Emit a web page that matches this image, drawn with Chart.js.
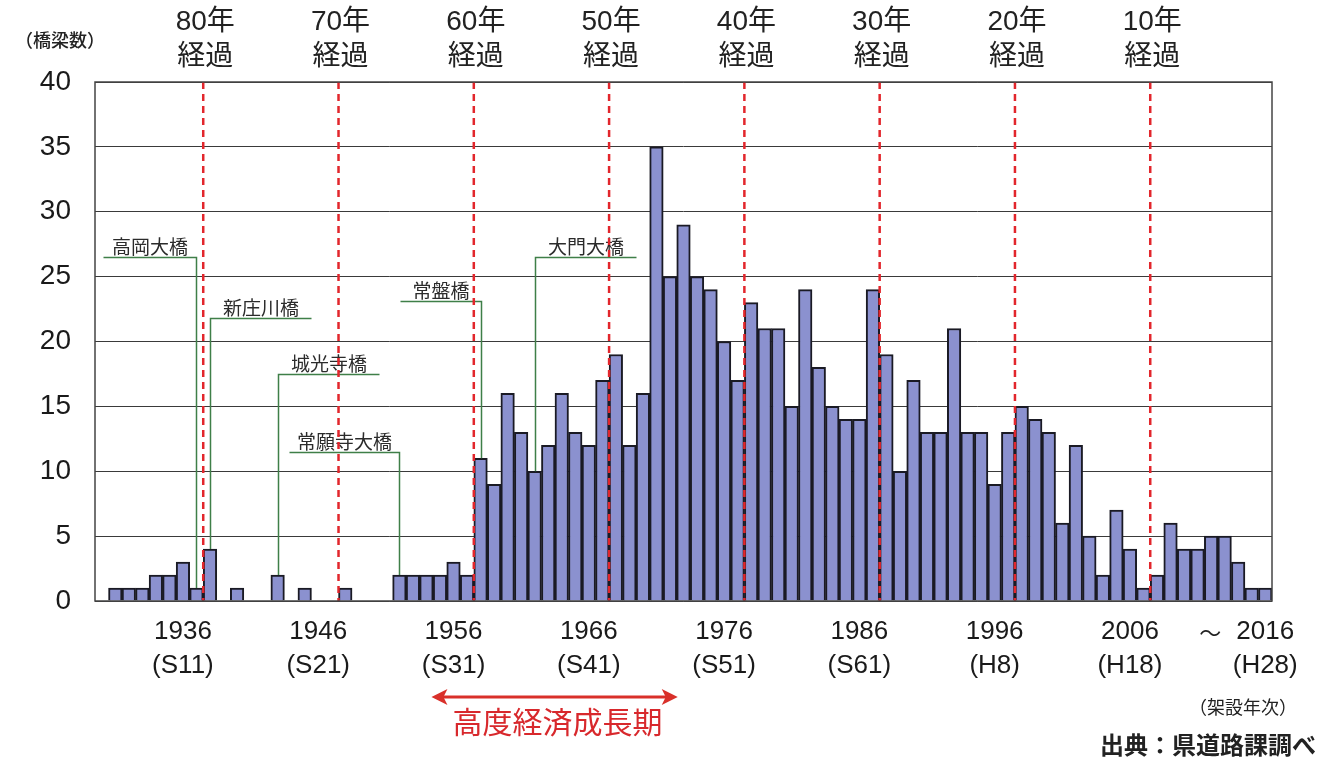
<!DOCTYPE html>
<html>
<head>
<meta charset="utf-8">
<script src="https://cdn.jsdelivr.net/npm/chart.js"></script>
<style>
  html, body { margin: 0; padding: 0; background: #fff; }
</style>
</head>
<body>
<canvas id="bridgeChart" width="1331" height="760"></canvas>
<script>
// 1. data (bridges built per year)
const firstYear = 1930;
const lastYear = 2016;
const years = [];
for (let y = firstYear; y <= lastYear; y++) years.push(y);

const bridgeCounts = [
  0, 1, 1, 1, 2, 2, 3, 1, 4, 0,       // 1930-1939
  1, 0, 0, 2, 0, 1, 0, 0, 1, 0,       // 1940-1949
  0, 0, 2, 2, 2, 2, 3, 2, 11, 9,      // 1950-1959
  16, 13, 10, 12, 16, 13, 12, 17, 19, 12, // 1960-1969
  16, 35, 25, 29, 25, 24, 20, 17, 23, 21, // 1970-1979
  21, 15, 24, 18, 15, 14, 14, 24, 19, 10, // 1980-1989
  17, 13, 13, 21, 13, 13, 9, 13, 15, 14,  // 1990-1999
  13, 6, 12, 5, 2, 7, 4, 1, 2, 6,         // 2000-2009
  4, 4, 5, 5, 3, 1, 1                     // 2010-2016
];

const tickYears = [1936, 1946, 1956, 1966, 1976, 1986, 1996, 2006, 2016];
const eraLabels = ["(S11)", "(S21)", "(S31)", "(S41)", "(S51)", "(S61)", "(H8)", "(H18)", "(H28)"];

// "xx年経過" markers
const surveyYear = 2017;
const elapsedYears = [80, 70, 60, 50, 40, 30, 20, 10];

// named bridges
const bridgeNames = ["高岡大橋", "新庄川橋", "城光寺橋", "常願寺大橋", "常盤橋", "大門大橋"];
const bridgeYears = [1937, 1938, 1943, 1952, 1958, 1962];

// high growth period arrow
const growthPeriod = [1954, 1972];

// 2. layout of the leader lines (kept apart from the data)
const leaderLayout = [
  { level: 26.5, dir: -1, len: 93 },
  { level: 21.8, dir: 1, len: 101 },
  { level: 17.5, dir: 1, len: 101 },
  { level: 11.5, dir: -1, len: 110 },
  { level: 23.1, dir: -1, len: 81 },
  { level: 26.5, dir: 1, len: 101 }
];

const NUM_FONT = "'Liberation Sans', 'Noto Sans CJK JP', sans-serif";
const JP_FONT = "'Noto Sans CJK JP', sans-serif";

// 3. overlay: frame, dashed lines, leaders, labels
const overlay = {
  id: "overlay",
  afterDatasetsDraw(chart) {
    const ctx = chart.ctx;
    const a = chart.chartArea;
    const x = chart.scales.x;
    const y = chart.scales.y;
    const slot = x.getPixelForValue(1) - x.getPixelForValue(0);

    ctx.save();

    // green leader lines
    ctx.strokeStyle = "#3f7f48";
    ctx.lineWidth = 1.5;
    ctx.fillStyle = "#2b2b2b";
    ctx.font = "19px " + JP_FONT;
    ctx.textAlign = "center";
    ctx.textBaseline = "bottom";
    bridgeNames.forEach((name, k) => {
      const i = years.indexOf(bridgeYears[k]);
      const px = Math.round(x.getPixelForValue(i)) + 0.5;
      const top = y.getPixelForValue(bridgeCounts[i]);
      const lay = leaderLayout[k];
      const ly = Math.round(y.getPixelForValue(lay.level)) + 0.5;
      const ex = px + lay.dir * lay.len;
      ctx.beginPath();
      ctx.moveTo(ex, ly);
      ctx.lineTo(px, ly);
      ctx.lineTo(px, top);
      ctx.stroke();
      ctx.fillText(name, (px + ex) / 2, ly - 1);
    });

    // red dashed "elapsed" lines
    ctx.strokeStyle = "#e2262c";
    ctx.lineWidth = 2.5;
    ctx.setLineDash([7, 5]);
    elapsedYears.forEach(n => {
      const i = years.indexOf(surveyYear - n);
      const px = x.getPixelForValue(i) + slot / 2;
      ctx.beginPath();
      ctx.moveTo(px, a.top);
      ctx.lineTo(px, a.bottom);
      ctx.stroke();
    });
    ctx.setLineDash([]);

    // plot frame
    ctx.strokeStyle = "#444";
    ctx.lineWidth = 1.5;
    ctx.strokeRect(a.left, a.top, a.right - a.left, a.bottom - a.top);

    ctx.restore();
  },
  afterDraw(chart) {
    const ctx = chart.ctx;
    const x = chart.scales.x;
    const slot = x.getPixelForValue(1) - x.getPixelForValue(0);

    ctx.save();
    ctx.fillStyle = "#222";
    ctx.textAlign = "center";
    ctx.textBaseline = "middle";

    // top labels
    ctx.font = "28px " + NUM_FONT;
    elapsedYears.forEach(n => {
      const i = years.indexOf(surveyYear - n);
      const px = x.getPixelForValue(i) + slot / 2;
      ctx.fillText(n + "年", px + 2, 22);
      ctx.fillText("経過", px + 2, 57);
    });

    // y axis title
    ctx.font = "500 18px " + JP_FONT;
    ctx.fillText("（橋梁数）", 60, 40);

    // tilde before last tick
    const iLast = years.indexOf(tickYears[tickYears.length - 1]);
    ctx.font = "22px " + JP_FONT;
    ctx.fillText("～", x.getPixelForValue(iLast) - 55, 633);

    ctx.font = "18px " + JP_FONT;
    ctx.fillText("（架設年次）", 1243, 707);

    ctx.font = "bold 24px " + JP_FONT;
    ctx.textAlign = "left";
    ctx.fillText("出典：県道路課調べ", 1100, 745);

    // high growth period arrow
    const x0 = x.getPixelForValue(years.indexOf(growthPeriod[0])) + 5;
    const x1 = x.getPixelForValue(years.indexOf(growthPeriod[1])) + slot / 2 + 1;
    const ay = 697;
    ctx.strokeStyle = "#d9302a";
    ctx.fillStyle = "#d9302a";
    ctx.lineWidth = 3;
    ctx.beginPath();
    ctx.moveTo(x0 + 10, ay);
    ctx.lineTo(x1 - 10, ay);
    ctx.stroke();
    ctx.beginPath();
    ctx.moveTo(x0, ay); ctx.lineTo(x0 + 16, ay - 8); ctx.lineTo(x0 + 12, ay); ctx.lineTo(x0 + 16, ay + 8);
    ctx.closePath(); ctx.fill();
    ctx.beginPath();
    ctx.moveTo(x1, ay); ctx.lineTo(x1 - 16, ay - 8); ctx.lineTo(x1 - 12, ay); ctx.lineTo(x1 - 16, ay + 8);
    ctx.closePath(); ctx.fill();

    ctx.fillStyle = "#d8282c";
    ctx.textAlign = "center";
    ctx.font = "30px " + JP_FONT;
    ctx.fillText("高度経済成長期", (x0 + x1) / 2 + 3, 722);

    ctx.restore();
  }
};

// 4. the chart
const bridgeChart = new Chart(document.getElementById("bridgeChart"), {
  type: "bar",
  data: {
    labels: years,
    datasets: [{
      data: bridgeCounts,
      backgroundColor: "#8b91cf",
      borderColor: "#1a1a24",
      borderWidth: 2,
      barPercentage: 1,
      categoryPercentage: 1
    }]
  },
  options: {
    responsive: false,
    animation: false,
    layout: { padding: { top: 82, right: 59, left: 0, bottom: 0 } },
    plugins: {
      legend: { display: false },
      tooltip: { enabled: false }
    },
    scales: {
      x: {
        grid: { display: false, drawTicks: false },
        border: { display: false },
        afterFit(scale) { scale.height = 159; },
        ticks: {
          autoSkip: false,
          maxRotation: 0,
          minRotation: 0,
          padding: 14,
          color: "#1a1a1a",
          font: { family: NUM_FONT, size: 26, lineHeight: 1.3 },
          callback(value, index) {
            const k = tickYears.indexOf(years[index]);
            return k >= 0 ? [String(years[index]), eraLabels[k]] : "";
          }
        }
      },
      y: {
        min: 0,
        max: 40,
        afterFit(scale) { scale.width = 95; },
        grid: { color: "#3a3a3a", lineWidth: 1, drawTicks: false },
        border: { display: false },
        ticks: {
          stepSize: 5,
          padding: 24,
          color: "#1a1a1a",
          font: { family: NUM_FONT, size: 28 }
        }
      }
    }
  },
  plugins: [overlay]
});
</script>
</body>
</html>
